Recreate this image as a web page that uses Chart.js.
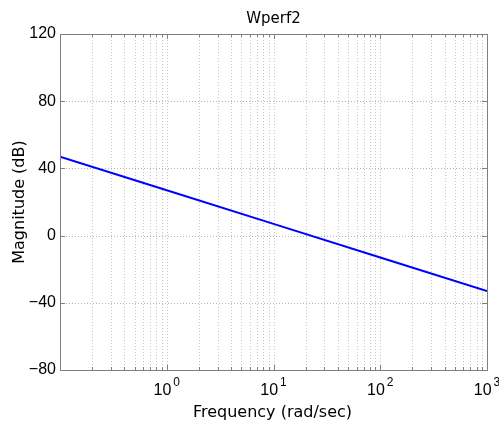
<!DOCTYPE html>
<html lang="en">
<head>
  <meta charset="UTF-8">
  <title>Wperf2</title>
  <script src="https://cdn.jsdelivr.net/npm/chart.js"></script>
  <style>
    html, body { margin: 0; padding: 0; background: #fff; }
    #wrap { width: 499px; height: 421px; }
  </style>
</head>
<body>
  <div id="wrap"><canvas id="bode"></canvas></div>

  <script>
    // values (magnitude at each decade)
    const freqs = [0.1, 1, 10, 100, 1000];
    const magDb = [47, 27, 7, -13, -33];
    const yTicks = [-80, -40, 0, 40, 80, 120];
    const xMajor = [0.1, 1, 10, 100, 1000];
    const titleText = 'Wperf2';
    const xLabel = 'Frequency (rad/sec)';
    const yLabel = 'Magnitude (dB)';

    const ARIAL = '"Liberation Sans", Arial, sans-serif';
    const WIDE = '"DejaVu Sans", sans-serif';

    // all log ticks 1..9 per decade
    const xAll = [];
    for (let e = -1; e < 3; e++) {
      for (let k = 1; k < 10; k++) xAll.push(+(k * Math.pow(10, e)).toPrecision(3));
    }
    xAll.push(1000);

    const decor = {
      id: 'decor',
      beforeDatasetsDraw(chart) {
        // dotted grid, MATLAB style
        const { ctx, chartArea: a, scales } = chart;
        ctx.save();
        ctx.lineWidth = 1;
        ctx.setLineDash([1, 2]);
        ctx.strokeStyle = '#c6c6c6';
        ctx.beginPath();
        xAll.slice(1, -1).forEach(v => {
          const x = Math.round(scales.x.getPixelForValue(v)) + 0.5;
          ctx.moveTo(x, a.top); ctx.lineTo(x, a.bottom);
        });
        ctx.stroke();
        ctx.strokeStyle = '#b4b4b4';
        ctx.beginPath();
        yTicks.slice(1, -1).forEach(v => {
          const y = Math.round(scales.y.getPixelForValue(v)) + 0.5;
          ctx.moveTo(a.left, y); ctx.lineTo(a.right, y);
        });
        ctx.stroke();
        ctx.restore();
      },
      afterDraw(chart) {
        const { ctx, chartArea: a, scales } = chart;
        const xs = scales.x, ys = scales.y;
        ctx.save();

        // box
        ctx.strokeStyle = '#808080';
        ctx.lineWidth = 1;
        ctx.strokeRect(a.left + 0.5, a.top + 0.5, a.right - a.left, a.bottom - a.top);

        // inward ticks
        ctx.beginPath();
        yTicks.forEach(v => {
          const y = Math.round(ys.getPixelForValue(v)) + 0.5;
          ctx.moveTo(a.left, y); ctx.lineTo(a.left + 5, y);
          ctx.moveTo(a.right, y); ctx.lineTo(a.right - 5, y);
        });
        xAll.forEach(v => {
          const x = Math.round(xs.getPixelForValue(v)) + 0.5;
          const len = xMajor.includes(v) ? 5 : 3;
          ctx.moveTo(x, a.bottom); ctx.lineTo(x, a.bottom - len);
          ctx.moveTo(x, a.top); ctx.lineTo(x, a.top + len);
        });
        ctx.stroke();

        // x tick labels 10^n
        ctx.fillStyle = '#000';
        ctx.textBaseline = 'alphabetic';
        ctx.textAlign = 'left';
        xMajor.forEach(v => {
          const e = Math.round(Math.log10(v));
          if (e < 0) return;
          const x = xs.getPixelForValue(v);
          ctx.font = '16px ' + ARIAL;
          const wb = ctx.measureText('10').width;
          ctx.font = '12px ' + ARIAL;
          const we = ctx.measureText(String(e)).width;
          const x0 = x - (wb + we + 2) / 2;
          ctx.font = '16px ' + ARIAL;
          ctx.fillText('10', x0, 395);
          ctx.font = '12px ' + ARIAL;
          ctx.fillText(String(e), x0 + wb + 2, 386);
        });

        // title and axis labels
        ctx.textAlign = 'center';
        ctx.font = '15px ' + WIDE;
        ctx.fillText(titleText, (a.left + a.right) / 2, 23);
        ctx.font = '16px ' + WIDE;
        ctx.fillText(xLabel, (a.left + a.right) / 2 - 1, 417);
        ctx.translate(24, (a.top + a.bottom) / 2);
        ctx.rotate(-Math.PI / 2);
        ctx.fillText(yLabel, 0, 0);
        ctx.restore();
      }
    };

    new Chart(document.getElementById('bode'), {
      type: 'line',
      data: {
        datasets: [{
          data: freqs.map((f, i) => ({ x: f, y: magDb[i] })),
          borderColor: '#0000ff',
          borderWidth: 2,
          pointRadius: 0,
          tension: 0,
          fill: false
        }]
      },
      options: {
        responsive: true,
        maintainAspectRatio: false,
        animation: false,
        layout: { padding: { left: 0, top: 34, right: 12, bottom: 0 } },
        plugins: { legend: { display: false }, title: { display: false }, tooltip: { enabled: false } },
        scales: {
          x: {
            type: 'logarithmic',
            min: 0.1,
            max: 1000,
            afterBuildTicks: s => { s.ticks = xAll.map(v => ({ value: v })); },
            afterFit: s => { s.height = 51; },
            ticks: { display: false, autoSkip: false },
            border: { display: false },
            grid: { display: false }
          },
          y: {
            min: -80,
            max: 120,
            afterBuildTicks: s => { s.ticks = yTicks.map(v => ({ value: v })); },
            afterFit: s => { s.width = 60; },
            ticks: {
              autoSkip: false,
              padding: 4,
              color: '#000',
              font: { family: ARIAL, size: 16 },
              callback: v => String(v).replace('-', '\u2212')
            },
            border: { display: false },
            grid: { display: false, drawTicks: false }
          }
        }
      },
      plugins: [decor]
    });
  </script>
</body>
</html>
